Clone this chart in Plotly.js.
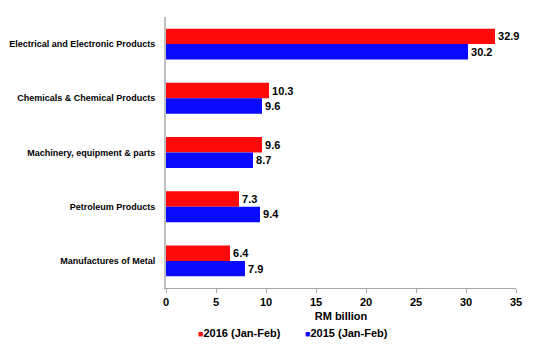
<!DOCTYPE html>
<html><head><meta charset="utf-8">
<script src="https://cdn.plot.ly/plotly-3.0.1.min.js"></script>
<style>html,body{margin:0;padding:0;background:#fff}</style>
</head><body>
<div id="chart" style="width:550px;height:350px"></div>
<script>
var categories = ["Electrical and Electronic Products","Chemicals & Chemical Products","Machinery, equipment & parts","Petroleum Products","Manufactures of Metal"];
var values2016 = [32.9, 10.3, 9.6, 7.3, 6.4];
var values2015 = [30.2, 9.6, 8.7, 9.4, 7.9];
var seriesNames = ["2016 (Jan-Feb)", "2015 (Jan-Feb)"];
var seriesColors = ['#FF0A0A', '#0A0AFF'];
var xTicks = [0,5,10,15,20,25,30,35];

var font = "Liberation Sans, Arial, sans-serif";
function tr(name, vals, color){
  return {type:'bar', orientation:'h', name:name, y:categories, x:vals,
    marker:{color:color}, text:vals.map(function(v){return v.toFixed(1);}),
    textposition:'outside', cliponaxis:false,
    textfont:{family:font, size:11, color:'#000', weight:'bold'}, hoverinfo:'none'};
}
var data = [tr(seriesNames[0], values2016, seriesColors[0]), tr(seriesNames[1], values2015, seriesColors[1])];
var legendX = [196, 303];
var annotations = seriesNames.map(function(n, i){
  return {xref:'paper', yref:'paper', x:(legendX[i]-166)/350, y:(288-333)/271,
    xanchor:'left', yanchor:'middle', showarrow:false,
    text:'<span style="color:'+seriesColors[i]+';font-size:9px">■</span>'+n,
    font:{family:font, size:11, color:'#000', weight:'bold'}};
});
var layout = {
  width:550, height:350,
  margin:{l:166, r:34, t:17, b:62},
  paper_bgcolor:'#fff', plot_bgcolor:'#fff',
  barmode:'group', bargap:0.43, bargroupgap:0,
  showlegend:false,
  annotations:annotations,
  xaxis:{range:[0,35], tickvals:xTicks, showgrid:false, zeroline:false, automargin:false,
    showline:true, linecolor:'#A6A6A6', linewidth:1, ticks:'outside', ticklen:4, tickcolor:'#A6A6A6',
    tickfont:{family:font, size:11, color:'#000', weight:'bold'},
    title:{text:'RM billion', standoff:5, font:{family:font, size:11, color:'#000', weight:'bold'}}},
  yaxis:{autorange:'reversed', showgrid:false, zeroline:false, showline:true, automargin:false,
    linecolor:'#BFBFBF', linewidth:2, ticks:'', ticklabelstandoff:7,
    tickfont:{family:font, size:9, color:'#000', weight:'bold'}}
};
Plotly.newPlot('chart', data, layout, {displayModeBar:false, staticPlot:true});
</script>
</body></html>
